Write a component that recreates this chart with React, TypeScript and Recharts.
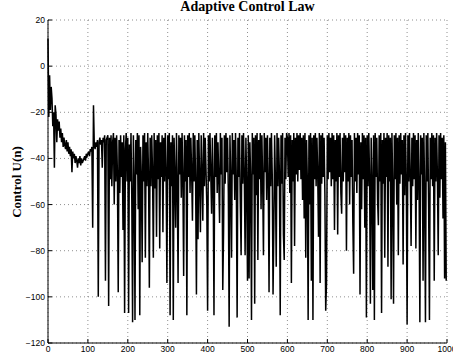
import React from 'react';
import { LineChart, Line, XAxis, YAxis, CartesianGrid } from 'recharts';

const STEP = 2;
const U_0_198 = [
  12, -22, -4, -19, -9, -14, -26, -20, -44, -17, -21, -33, -23, -28, -24, -31, -27, -33, -29, -35, -31, -34, -36, -32, -37,
  -33, -38, -35, -39, -36, -46, -37, -40, -38, -42, -39, -41, -44, -40, -42, -39, -43, -40, -42, -41, -40, -39, -41, -38, -39,
  -38, -37, -39, -36, -37, -35, -70, -17, -34, -36, -33, -35, -32, -100, -33, -31, -34, -32, -44, -31, -33, -30, -93, -32, -31,
  -30, -104, -31, -49, -30, -52, -33, -29, -60, -31, -50, -30, -47, -98, -32, -55, -30, -48, -33, -71, -30, -107, -36, -29, -50,
];
const U_200_398 = [
  -31, -107, -34, -50, -29, -58, -111, -30, -49, -110, -32, -47, -29, -62, -30, -108, -35, -48, -85, -30, -50, -29, -83, -33, -52,
  -29, -48, -96, -31, -52, -30, -46, -83, -29, -53, -32, -74, -30, -49, -29, -79, -33, -48, -30, -72, -31, -50, -29, -46, -94,
  -30, -49, -29, -108, -33, -52, -30, -110, -31, -48, -70, -29, -51, -94, -30, -47, -31, -57, -29, -49, -91, -30, -50, -32, -108,
  -30, -48, -29, -55, -31, -46, -67, -29, -50, -30, -51, -99, -32, -75, -29, -49, -72, -30, -47, -67, -29, -52, -31, -45, -60,
];
const U_400_598 = [
  -106, -30, -50, -29, -47, -64, -31, -50, -108, -30, -48, -29, -55, -33, -49, -68, -29, -47, -31, -97, -72, -30, -51, -29, -46,
  -31, -55, -113, -30, -49, -83, -29, -47, -32, -58, -29, -50, -109, -31, -48, -29, -60, -82, -30, -51, -29, -47, -82, -31, -52,
  -93, -30, -92, -33, -49, -110, -29, -47, -31, -103, -30, -56, -29, -84, -32, -49, -29, -62, -30, -50, -82, -29, -46, -31, -58,
  -30, -49, -98, -31, -52, -29, -47, -99, -70, -30, -50, -87, -29, -52, -31, -47, -108, -30, -51, -29, -73, -84, -31, -49, -29,
];
const U_600_798 = [
  -31, -48, -29, -55, -30, -94, -32, -50, -29, -78, -31, -47, -29, -50, -30, -45, -29, -49, -31, -58, -30, -66, -29, -83, -32,
  -50, -110, -30, -60, -29, -93, -31, -110, -30, -49, -29, -52, -31, -47, -74, -29, -94, -30, -51, -29, -48, -31, -56, -106, -94,
  -30, -49, -29, -46, -31, -52, -29, -49, -30, -71, -32, -50, -29, -73, -30, -48, -29, -55, -64, -31, -50, -29, -46, -30, -80,
  -31, -50, -29, -60, -30, -48, -32, -68, -90, -29, -50, -31, -55, -29, -47, -30, -99, -33, -62, -29, -49, -30, -70, -31, -109,
];
const U_800_998 = [
  -30, -52, -29, -49, -103, -31, -50, -97, -30, -110, -29, -48, -31, -58, -69, -30, -50, -29, -107, -32, -51, -29, -83, -31, -48,
  -29, -87, -30, -50, -31, -101, -29, -53, -103, -30, -49, -29, -60, -31, -82, -30, -51, -29, -47, -32, -86, -30, -56, -29, -49,
  -112, -30, -50, -29, -48, -78, -31, -52, -29, -49, -30, -79, -32, -58, -29, -50, -111, -30, -47, -31, -93, -29, -55, -111, -30,
  -50, -29, -62, -110, -31, -49, -29, -52, -30, -93, -31, -50, -29, -48, -82, -30, -57, -29, -49, -31, -66, -30, -92, -33, -93,
];

const X_TICKS = [0, 100, 200, 300, 400, 500, 600, 700, 800, 900, 1000];
const Y_TICKS = [-120, -100, -80, -60, -40, -20, 0, 20];

const data = [...U_0_198, ...U_200_398, ...U_400_598, ...U_600_798, ...U_800_998].map((u, i) => ({ n: i * STEP, u }));

const tickFont = { fontSize: 8.5, fill: '#000', fontFamily: '"Liberation Sans", Arial, sans-serif' };
const fmt = (v: number) => String(v).replace('-', '\u2212');
const blank = () => '';

export default function App() {
  return (
    <div style={{ position: 'absolute', left: 0, top: 0, width: 453, height: 360, background: '#fff' }}>
      <LineChart width={453} height={360} data={data} margin={{ top: 20, right: 6, bottom: 0, left: 8 }}>
        <CartesianGrid stroke="#444" strokeWidth={0.6} strokeDasharray="1 3" />
        <XAxis dataKey="n" type="number" domain={[0, 1000]} ticks={X_TICKS} height={17}
          tickSize={-4} tickMargin={7} tick={tickFont} stroke="#000" interval={0} tickFormatter={fmt} />
        <XAxis xAxisId="top" orientation="top" dataKey="n" type="number" domain={[0, 1000]} ticks={X_TICKS}
          height={0} tickSize={-4} tickFormatter={blank} stroke="#000" interval={0} />
        <YAxis type="number" domain={[-120, 20]} ticks={Y_TICKS} width={40} tickSize={-4} tickMargin={7}
          tick={tickFont} stroke="#000" interval={0} tickFormatter={fmt} />
        <YAxis yAxisId="right" orientation="right" type="number" domain={[-120, 20]} ticks={Y_TICKS}
          width={0} tickSize={-4} tickFormatter={blank} stroke="#000" interval={0} />
        <Line dataKey="u" type="linear" stroke="#000" strokeWidth={1.5} dot={false} isAnimationActive={false} />
      </LineChart>
      <div style={{ position: 'absolute', left: 48, top: -1, width: 399, textAlign: 'center',
        font: 'bold 14px "Liberation Serif", "Times New Roman", serif', lineHeight: '16px' }}>
        Adaptive Control Law
      </div>
      <div style={{ position: 'absolute', left: -83, top: 174, width: 200, height: 16, lineHeight: '16px',
        textAlign: 'center', transform: 'rotate(-90deg)', font: 'bold 13px "Liberation Serif", "Times New Roman", serif' }}>
        Control U(n)
      </div>
    </div>
  );
}
